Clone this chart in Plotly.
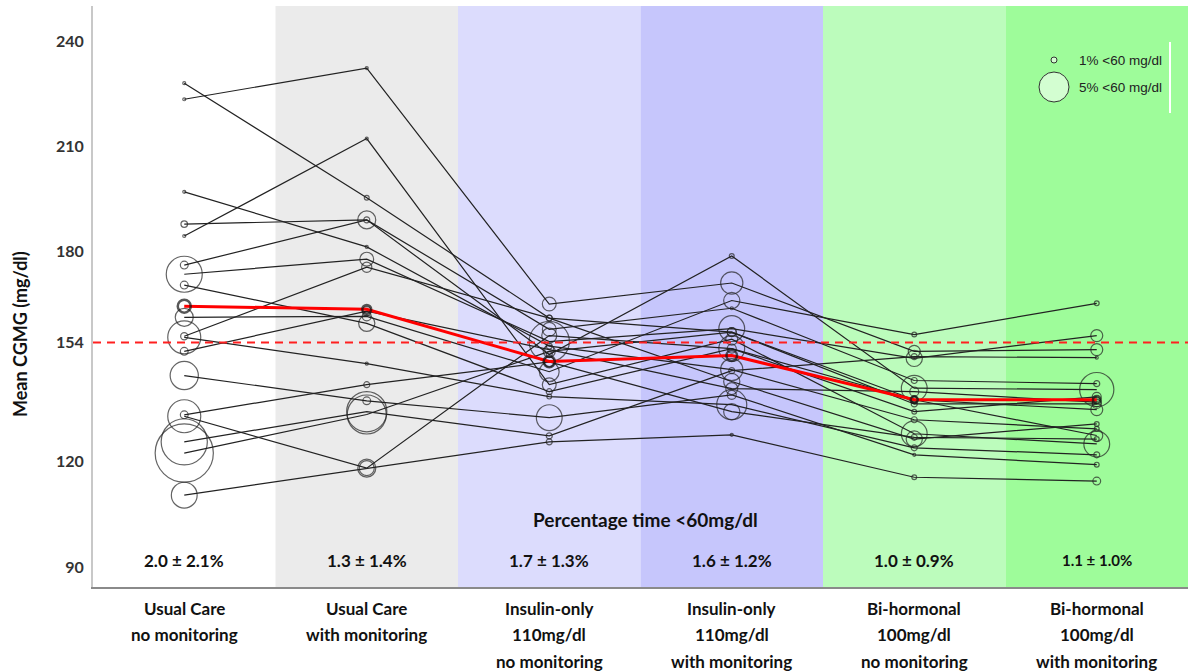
import plotly.graph_objects as go

# ---------------- data ----------------
categories = [
    ["Usual Care", "no monitoring"],
    ["Usual Care", "with monitoring"],
    ["Insulin-only", "110mg/dl", "no monitoring"],
    ["Insulin-only", "110mg/dl", "with monitoring"],
    ["Bi-hormonal", "100mg/dl", "no monitoring"],
    ["Bi-hormonal", "100mg/dl", "with monitoring"],
]
pct_labels = ["2.0 ± 2.1%", "1.3 ± 1.4%", "1.7 ± 1.3%", "1.6 ± 1.2%", "1.0 ± 0.9%", "1.1 ± 1.0%"]

# mean CGM per subject per condition (mg/dl)
subject_cgm = [
    [228.0, 195.3, 161.0, 157.0, 136.5, 136.5],
    [223.4, 232.3, 165.0, 171.0, 151.5, 152.0],
    [197.0, 181.3, 153.0, 146.3, 132.0, 129.4],
    [187.8, 189.0, 157.8, 163.8, 143.2, 142.3],
    [184.4, 212.2, 142.0, 155.0, 128.0, 125.1],
    [176.1, 189.0, 150.6, 178.7, 141.0, 140.6],
    [173.5, 177.8, 154.3, 158.0, 149.5, 156.0],
    [170.4, 159.5, 140.0, 152.3, 137.7, 134.9],
    [161.2, 161.5, 145.7, 166.0, 156.3, 165.2],
    [155.8, 175.5, 161.0, 142.9, 126.5, 130.8],
    [155.5, 148.0, 138.6, 136.3, 124.0, 122.0],
    [151.5, 163.0, 152.0, 140.9, 140.0, 137.0],
    [144.6, 137.4, 132.6, 139.1, 122.0, 119.2],
    [133.4, 142.0, 148.5, 134.3, 127.0, 126.5],
    [133.0, 118.2, 156.0, 152.3, 134.3, 138.5],
    [125.7, 134.3, 127.4, 146.0, 150.0, 149.7],
    [122.5, 133.5, 151.5, 157.0, 137.7, 127.5],
    [110.5, 118.2, 125.7, 127.7, 115.6, 114.5],
]
# percentage time < 60 mg/dl per subject per condition
subject_pct = [
    [0.0, 0.8, 1.0, 1.5, 1.0, 1.5],
    [0.0, 0.0, 2.3, 3.7, 2.0, 2.0],
    [0.1, 0.1, 1.0, 3.7, 1.0, 0.8],
    [1.1, 3.0, 2.3, 0.2, 1.0, 1.0],
    [0.0, 0.0, 2.3, 2.0, 4.3, 4.3],
    [1.3, 1.0, 1.0, 0.8, 4.3, 5.7],
    [6.0, 2.3, 6.7, 4.3, 2.7, 2.0],
    [1.3, 2.7, 1.0, 4.3, 1.0, 2.0],
    [3.0, 1.5, 3.3, 2.7, 0.8, 0.8],
    [1.2, 1.7, 1.0, 2.7, 2.7, 0.8],
    [5.5, 0.1, 0.8, 5.0, 1.0, 1.0],
    [1.3, 1.5, 1.5, 2.0, 1.5, 1.5],
    [4.7, 1.3, 4.3, 1.5, 0.2, 0.8],
    [1.3, 1.0, 1.7, 2.7, 1.0, 0.8],
    [5.5, 3.0, 2.5, 1.5, 0.8, 1.5],
    [7.7, 6.7, 1.0, 1.0, 1.0, 0.2],
    [9.7, 6.5, 2.0, 1.5, 1.2, 2.0],
    [4.3, 2.5, 1.0, 0.0, 0.8, 1.3],
]
mean_cgm = [164.4, 163.5, 148.6, 150.3, 137.7, 137.7]
mean_pct = [2.0, 1.3, 1.7, 1.6, 1.0, 1.1]
reference_level = 154
y_ticks = [90, 120, 154, 180, 210, 240]
legend_pct = [1, 5]
legend_text = ["1% <60 mg/dl", "5% <60 mg/dl"]

band_colors = ["#ffffff", "#ebebeb", "#dcdcfd", "#c6c6fc", "#bcfcbc", "#9efc9a"]

# ---------------- figure ----------------
PX_PER_PCT = 6.0
FONT = "Lato"
x_idx = list(range(len(categories)))

fig = go.Figure()

for vals, pcts in zip(subject_cgm, subject_pct):
    sizes = [max(3.0, PX_PER_PCT * p) for p in pcts]
    fig.add_trace(go.Scatter(
        x=x_idx, y=vals, mode="lines+markers",
        line=dict(color="#222222", width=1.2),
        marker=dict(symbol="circle-open", size=sizes, color="#222222",
                    line=dict(width=1.2)),
        showlegend=False, hoverinfo="skip",
    ))

fig.add_trace(go.Scatter(
    x=x_idx, y=mean_cgm, mode="lines",
    line=dict(color="#ff0000", width=3),
    showlegend=False, hoverinfo="skip",
))
fig.add_trace(go.Scatter(
    x=x_idx, y=mean_cgm, mode="markers",
    marker=dict(symbol="circle-open", size=[PX_PER_PCT * p + 1 for p in mean_pct],
                color="#111111", line=dict(width=2.5)),
    showlegend=False, hoverinfo="skip",
))

shapes = []
for i, c in enumerate(band_colors):
    shapes.append(dict(type="rect", xref="x", yref="paper", x0=i - 0.5, x1=i + 0.5,
                       y0=0, y1=1, fillcolor=c, line=dict(width=0), layer="below"))
shapes.append(dict(type="line", xref="paper", yref="y", x0=0, x1=1,
                   y0=reference_level, y1=reference_level,
                   line=dict(color="#ff2020", width=2, dash="8px,6px"), layer="above"))
# legend circles (pixel-sized, anchored in paper coordinates)
PLOT_W, PLOT_H = 1095, 581
leg_x = (1054 - 93) / PLOT_W
leg_rows = [(587 - 60) / PLOT_H, (587 - 87) / PLOT_H]
for p, ly in zip(legend_pct, leg_rows):
    r = PX_PER_PCT * p / 2
    shapes.append(dict(type="circle", xref="paper", yref="paper",
                       xsizemode="pixel", ysizemode="pixel",
                       xanchor=leg_x, yanchor=ly, x0=-r, x1=r, y0=-r, y1=r,
                       fillcolor="rgba(255,255,255,0.55)",
                       line=dict(color="#333333", width=1)))
shapes.append(dict(type="line", xref="paper", yref="paper",
                   x0=(1170 - 93) / PLOT_W, x1=(1170 - 93) / PLOT_W,
                   y0=(587 - 113) / PLOT_H, y1=(587 - 42) / PLOT_H,
                   line=dict(color="#ffffff", width=2)))

annotations = []
for txt, ly in zip(legend_text, leg_rows):
    annotations.append(dict(xref="paper", yref="paper", x=(1077 - 93) / PLOT_W, y=ly,
                            xanchor="left", yanchor="middle", text=txt, showarrow=False,
                            font=dict(family="Liberation Sans", size=13.5, color="#222222")))
for i, lines in enumerate(categories):
    for j, line in enumerate(lines):
        annotations.append(dict(xref="x", yref="paper", x=i, y=0, yanchor="middle",
                                yshift=-(21 + 26.5 * j), text=line, showarrow=False,
                                font=dict(family=FONT, size=17, color="#111111", weight="bold")))
for i, t in enumerate(pct_labels):
    annotations.append(dict(xref="x", yref="paper", x=i, y=(587 - 560) / PLOT_H,
                            yanchor="middle", text=t, showarrow=False,
                            font=dict(family=FONT, size=17 if i < 5 else 15,
                                      color="#111111", weight="bold")))
annotations.append(dict(xref="paper", yref="paper", x=(645 - 93) / PLOT_W,
                        y=(587 - 519) / PLOT_H, yanchor="middle",
                        text="Percentage time <60mg/dl", showarrow=False,
                        font=dict(family=FONT, size=19, color="#111111", weight="bold")))
annotations.append(dict(xref="paper", yref="paper", x=(20 - 93) / PLOT_W,
                        y=(587 - 334) / PLOT_H, textangle=-90,
                        text="Mean CGMG (mg/dl)", showarrow=False,
                        xanchor="center", yanchor="middle",
                        font=dict(family=FONT, size=18, color="#111111", weight="bold")))

fig.update_layout(
    width=1188, height=672,
    margin=dict(l=93, r=0, t=6, b=85),
    paper_bgcolor="white", plot_bgcolor="white",
    shapes=shapes, annotations=annotations,
    xaxis=dict(range=[-0.5, 5.5], showticklabels=False, showgrid=False, zeroline=False,
               showline=True, linecolor="#8a8a8a", linewidth=2, ticks=""),
    yaxis=dict(range=[84.3, 250], tickvals=y_ticks, showgrid=False, zeroline=False,
               showline=True, linecolor="#c8c8c8", linewidth=2, ticks="",
               tickfont=dict(family=FONT, size=16, color="#333333", weight="bold"),
               ticklabelstandoff=4),
)

fig.write_html("out.html", config={"displayModeBar": False},
               post_script="document.body.style.margin='0px';document.body.style.overflow='hidden';")
